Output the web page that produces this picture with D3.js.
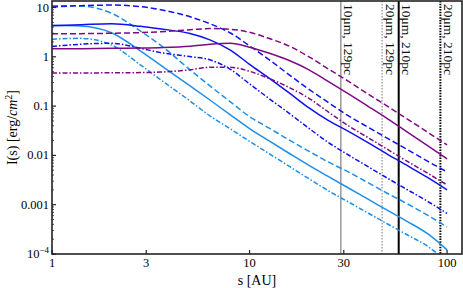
<!DOCTYPE html>
<html>
<head>
<meta charset="utf-8">
<script src="https://cdn.jsdelivr.net/npm/d3@7"></script>
<style>
  body { margin: 0; background: #fff; }
  svg { display: block; font-family: "Liberation Serif", "DejaVu Serif", serif; }
</style>
</head>
<body>
<div id="chart"></div>
<script>
// radius grid [AU]
var sValues = [1, 1.4, 2, 2.8, 3.5, 5, 6.3, 8, 10, 12.5, 16, 20, 25, 32, 40, 50, 63, 80, 100];

// I(s) [erg/cm^2]
var purpleDashed = [2.93, 2.95, 3.0, 3.10, 3.22, 3.53, 3.74, 3.61, 3.14, 2.37, 1.63, 1.0, 0.571, 0.31, 0.173, 0.099, 0.0543, 0.0293, 0.0163];
var purpleSolid = [1.45, 1.46, 1.49, 1.50, 1.53, 1.63, 1.79, 1.88, 1.56, 1.19, 0.83, 0.545, 0.318, 0.173, 0.098, 0.0551, 0.0296, 0.0156, 0.0085];
var purpleDashDot = [0.467, 0.471, 0.473, 0.478, 0.489, 0.545, 0.612, 0.612, 0.508, 0.366, 0.235, 0.144, 0.0764, 0.0388, 0.0227, 0.0132, 0.00755, 0.00431, 0.00252];
var blueDashed = [10.2, 10.9, 11.2, 10.45, 9.08, 6.49, 4.68, 3.04, 1.67, 0.889, 0.421, 0.219, 0.119, 0.0619, 0.037, 0.0221, 0.0131, 0.00755, 0.00462];
var blueSolid = [4.26, 4.46, 4.68, 4.16, 3.7, 2.97, 2.21, 1.37, 0.704, 0.375, 0.181, 0.092, 0.0514, 0.03, 0.0179, 0.0105, 0.00618, 0.00353, 0.00199];
var blueDashDot = [1.62, 1.80, 1.88, 1.49, 1.23, 1.01, 0.869, 0.557, 0.283, 0.144, 0.0697, 0.0353, 0.0184, 0.00995, 0.00584, 0.00343, 0.00201, 0.00116, 0.000664];
var lightDashed = [10.9, 10.75, 7.64, 3.34, 1.79, 0.545, 0.258, 0.122, 0.0613, 0.0362, 0.0202, 0.0121, 0.00737, 0.00452, 0.00276, 0.00169, 0.00104, 0.000605, 0.000353];
var lightSolid = [4.36, 4.2, 3.07, 1.32, 0.701, 0.258, 0.133, 0.0664, 0.035, 0.0199, 0.0108, 0.00627, 0.00375, 0.00213, 0.00128, 0.000764, 0.000455, 0.000255, 0.000121];
var lightDashDot = [2.27, 2.37, 1.74, 0.688, 0.357, 0.127, 0.0634, 0.0345, 0.0193, 0.011, 0.00589, 0.00336, 0.00193, 0.00111, 0.00067, 0.000406, 0.000243, 0.000142, 0.0000689];

// vertical marker lines
var markerS = [29, 46.9, 56.9, 92.5];
var markerLabels = ["10\u03bcm, 129pc", "20\u03bcm, 129pc", "10\u03bcm, 210pc", "20\u03bcm, 210pc"];

var xTicks = [1, 3, 10, 30, 100];
var yTicks = [10, 1, 0.1, 0.01, 0.001, 0.0001];
var yTickLabels = ["10", "1", "0.1", "0.01", "0.001", ""];

var width = 463, height = 288;
var margin = {top: 1, right: 1, bottom: 34, left: 52};

var purple = "#7d0a82", blue = "#1010f0", light = "#1f8fe6";
var dashes = {solid: null, dashed: "6,3", dashdot: "5,2,1.5,2"};

var series = [
  {v: lightDashDot, c: light, d: "dashdot"},
  {v: lightSolid, c: light, d: "solid"},
  {v: lightDashed, c: light, d: "dashed"},
  {v: blueDashDot, c: blue, d: "dashdot"},
  {v: blueSolid, c: blue, d: "solid"},
  {v: blueDashed, c: blue, d: "dashed"},
  {v: purpleDashDot, c: purple, d: "dashdot"},
  {v: purpleSolid, c: purple, d: "solid"},
  {v: purpleDashed, c: purple, d: "dashed"}
];

var svg = d3.select('#chart').append('svg')
    .attr('width', width)
    .attr('height', height);

var x = d3.scaleLog().domain([1, 119]).range([margin.left, width - margin.right]);
var y = d3.scaleLog().domain([1e-4, 13.55]).range([height - margin.bottom, margin.top]);

svg.append('clipPath').attr('id', 'clip')
  .append('rect')
    .attr('x', margin.left).attr('y', margin.top)
    .attr('width', width - margin.right - margin.left)
    .attr('height', height - margin.bottom - margin.top);

var plot = svg.append('g').attr('clip-path', 'url(#clip)');

// marker lines
var markerStyle = [
  {c: "#666", w: 1, d: null},
  {c: "#aaa", w: 1.6, d: "1.5,1.5"},
  {c: "#000", w: 2, d: null},
  {c: "#000", w: 2, d: "1.5,1.2"}
];
markerS.forEach(function(s, i) {
  plot.append('line')
    .attr('x1', x(s)).attr('x2', x(s))
    .attr('y1', margin.top).attr('y2', height - margin.bottom)
    .attr('stroke', markerStyle[i].c)
    .attr('stroke-width', markerStyle[i].w)
    .attr('stroke-dasharray', markerStyle[i].d);
  svg.append('text')
    .attr('transform', 'translate(' + (x(s) + 3.5) + ',4) rotate(90)')
    .style('font-size', '13.5px')
    .attr('fill', '#111')
    .text(markerLabels[i]);
});

var line = d3.line()
    .x(function(d, i) { return x(sValues[i]); })
    .y(function(d) { return y(d); })
    .curve(d3.curveMonotoneX);

series.forEach(function(sr) {
  plot.append('path')
    .attr('d', line(sr.v))
    .attr('fill', 'none')
    .attr('stroke', sr.c)
    .attr('stroke-width', 1.5)
    .attr('stroke-dasharray', dashes[sr.d]);
});

// frame
svg.append('rect')
  .attr('x', margin.left).attr('y', margin.top)
  .attr('width', width - margin.right - margin.left)
  .attr('height', height - margin.bottom - margin.top)
  .attr('fill', 'none')
  .attr('stroke', '#222')
  .attr('stroke-width', 1.6);

// y ticks
var y0 = height - margin.bottom;
yTicks.forEach(function(t, i) {
  svg.append('line')
    .attr('x1', margin.left).attr('x2', margin.left + 4)
    .attr('y1', y(t)).attr('y2', y(t))
    .attr('stroke', '#222').attr('stroke-width', 1.2);
  for (var k = 2; k < 10; k++) {
    var v = t * k;
    if (v > 13.55) continue;
    svg.append('line')
      .attr('x1', margin.left).attr('x2', margin.left + 2)
      .attr('y1', y(v)).attr('y2', y(v))
      .attr('stroke', '#222').attr('stroke-width', 0.8);
  }
  if (yTickLabels[i]) {
    svg.append('text')
      .attr('x', margin.left - 3).attr('y', y(t) + 4)
      .attr('text-anchor', 'end')
      .style('font-size', '12.5px')
      .text(yTickLabels[i]);
  }
});
var sup = svg.append('text')
  .attr('x', margin.left - 3).attr('y', y(1e-4) + 4)
  .attr('text-anchor', 'end')
  .style('font-size', '12.5px');
sup.append('tspan').text('10');
sup.append('tspan').attr('dy', -5).style('font-size', '9px').text('\u22124');

// x ticks
xTicks.forEach(function(t) {
  svg.append('line')
    .attr('x1', x(t)).attr('x2', x(t))
    .attr('y1', y0).attr('y2', y0 - 4)
    .attr('stroke', '#222').attr('stroke-width', 1.2);
  svg.append('text')
    .attr('x', x(t)).attr('y', y0 + 13)
    .attr('text-anchor', 'middle')
    .style('font-size', '12.5px')
    .text(t);
});

// axis titles
svg.append('text')
  .attr('x', (margin.left + width - margin.right) / 2 + 0)
  .attr('y', height - 3)
  .attr('text-anchor', 'middle')
  .style('font-size', '14px')
  .text('s [AU]');

var yl = svg.append('text')
  .attr('transform', 'translate(17,' + ((margin.top + y0) / 2) + ') rotate(-90)')
  .attr('text-anchor', 'middle')
  .style('font-size', '14px');
yl.append('tspan').text('I(s) [erg/');
yl.append('tspan').style('font-style', 'italic').text('cm');
yl.append('tspan').attr('dy', -5).style('font-size', '10px').text('2');
yl.append('tspan').attr('dy', 5).text(']');
</script>
</body>
</html>
